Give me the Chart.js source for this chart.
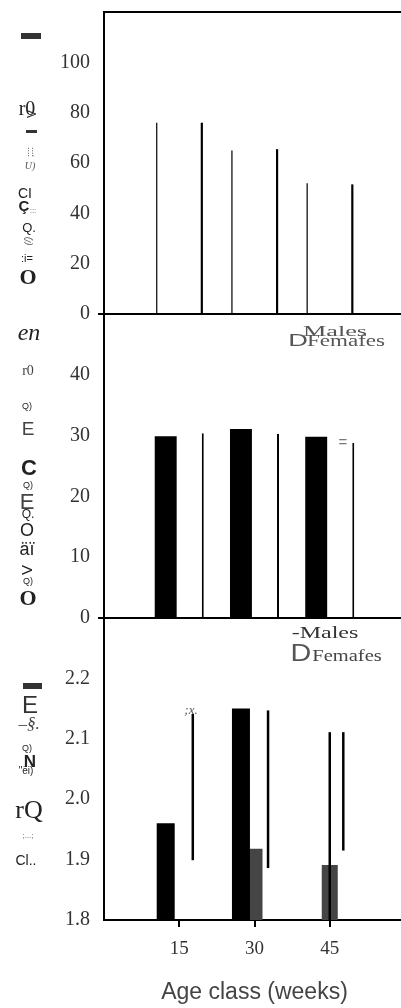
<!DOCTYPE html>
<html>
<head>
<meta charset="utf-8">
<script src="https://cdn.jsdelivr.net/npm/chart.js@4.4.1/dist/chart.umd.min.js"></script>
<style>
html, body { margin: 0; padding: 0; background: #fff; overflow: hidden; width: 401px; height: 1008px; }
canvas { position: absolute; left: 0; top: 0; }
</style>
</head>
<body>
<canvas id="panel-a" width="405" height="1008"></canvas>
<canvas id="panel-b" width="405" height="1008"></canvas>
<canvas id="panel-c" width="405" height="1008"></canvas>
<script>
// --- data ---
const ageLabels = ['', '15', '30', '45', ''];

// upper panel
const topTicks = [0, 20, 40, 60, 80, 100];
const topMales = [null, 76, 65, 52, null];
const topFemales = [null, 76, 65.5, 51.5, null];

// middle panel
const midTicks = [0, 10, 20, 30, 40];
const midMales = [null, 29.9, 31.1, 29.8, null];
const midFemales = [null, 30.4, 30.3, 28.8, null];

// lower panel
const lowTicks = [1.8, 1.9, 2.0, 2.1, 2.2];
const lowMales = [null, 1.96, 2.15, null, null];
const lowFemales = [null, null, 1.918, 1.891, null];
const lowBarsHigh = [null, [1.899, 2.141], [1.886, 2.147], [1.915, 2.111], null];
const lowBarsMid = [null, null, null, [1.8, 2.111], null];

const SERIF = "'Liberation Serif', 'Times New Roman', serif";
const SANS = "'Liberation Sans', Arial, sans-serif";

// leftover text from the scanned figure (y titles, legends)
const notes = [
  { t: 'r0', x: 27, y: 110, f: `20px ${SERIF}` },
  { t: 'V', x: 33, y: 114, f: `12px ${SANS}`, r: -90 },
  { t: ';:::', x: 31, y: 152, f: `9px ${SANS}`, r: -90, c: '#555' },
  { t: 'U)', x: 30, y: 166, f: `italic 10px ${SERIF}`, c: '#555' },
  { t: 'CI', x: 25, y: 194, f: `14px ${SANS}` },
  { t: 'Ç', x: 24, y: 207, f: `bold 15px ${SANS}` },
  { t: ':::', x: 33, y: 211, f: `8px ${SANS}`, c: '#555' },
  { t: 'Q.', x: 29, y: 228, f: `13px ${SANS}` },
  { t: '(/)', x: 28, y: 241, f: `italic 9px ${SANS}`, r: -90, c: '#555' },
  { t: ':i=', x: 27, y: 259, f: `11px ${SANS}` },
  { t: 'O', x: 28, y: 278, f: `bold 22px ${SERIF}` },

  { t: 'en', x: 29, y: 334, f: `italic 24px ${SERIF}` },
  { t: 'r0', x: 28, y: 371, f: `14px ${SERIF}`, c: '#444' },
  { t: 'Q)', x: 27, y: 407, f: `9px ${SANS}` },
  { t: 'E', x: 28, y: 430, f: `19px ${SANS}`, c: '#444' },
  { t: 'C', x: 29, y: 469, f: `bold 22px ${SANS}` },
  { t: 'Q)', x: 28, y: 486, f: `9px ${SANS}` },
  { t: 'E', x: 27, y: 503, f: `22px ${SANS}`, c: '#444' },
  { t: 'Q.', x: 28, y: 515, f: `12px ${SANS}` },
  { t: 'O', x: 27, y: 531, f: `18px ${SANS}` },
  { t: 'äï', x: 27, y: 550, f: `18px ${SANS}` },
  { t: 'V', x: 28, y: 570, f: `15px ${SANS}`, r: -90 },
  { t: 'Q)', x: 28, y: 582, f: `9px ${SANS}` },
  { t: 'O', x: 28, y: 599, f: `bold 22px ${SERIF}` },

  { t: 'E', x: 30, y: 706, f: `24px ${SANS}`, c: '#333' },
  { t: '–§.', x: 29, y: 725, f: `italic 17px ${SERIF}`, c: '#444' },
  { t: 'Q)', x: 27, y: 749, f: `9px ${SANS}` },
  { t: 'N', x: 30, y: 762, f: `bold 17px ${SANS}` },
  { t: '"ëi)', x: 26, y: 771, f: `10px ${SANS}` },
  { t: 'rQ', x: 29, y: 811, f: `26px ${SERIF}` },
  { t: ';...;', x: 28, y: 836, f: `8px ${SANS}`, c: '#555' },
  { t: 'Cl..', x: 26, y: 861, f: `14px ${SANS}` },

  // legends
  { t: 'D', x: 298, y: 341, f: `17px ${SANS}`, sx: 1.6, c: '#555' },
  { t: 'Males', x: 335, y: 332, f: `15px ${SERIF}`, sx: 1.75, c: '#555' },
  { t: 'Femafes', x: 346, y: 342, f: `16px ${SERIF}`, sx: 1.44, c: '#555' },
  { t: '=', x: 343, y: 443, f: `15px ${SANS}`, c: '#777' },
  { t: '-Males', x: 325, y: 634, f: `16px ${SERIF}`, sx: 1.5, c: '#333' },
  { t: 'D', x: 301, y: 655, f: `23px ${SANS}`, sx: 1.25, c: '#555' },
  { t: 'Femafes', x: 347, y: 657, f: `16px ${SERIF}`, sx: 1.28, c: '#444' },
  { t: ';x.', x: 191, y: 711, f: `italic 13px ${SERIF}`, c: '#555' }
];
const blots = [[21, 33, 20, 6], [26, 130, 11, 3], [23, 683, 19, 6]];

const notesPlugin = {
  id: 'notes',
  afterDraw(chart) {
    const ctx = chart.ctx;
    const xs = chart.scales.x;
    const bottom = chart.chartArea.bottom;
    ctx.save();
    ctx.fillStyle = '#333';
    blots.forEach(b => ctx.fillRect(b[0], b[1], b[2], b[3]));
    // small tick marks under the age classes
    ctx.fillStyle = '#000';
    for (let i = 1; i < ageLabels.length - 1; i++) {
      const px = Math.round(xs.getPixelForValue(i));
      ctx.fillRect(px - 1, bottom, 2, 7);
    }
    ctx.restore();
    notes.forEach(n => {
      ctx.save();
      ctx.translate(n.x, n.y);
      if (n.r) ctx.rotate(n.r * Math.PI / 180);
      if (n.sx) ctx.scale(n.sx, 1);
      ctx.font = n.f;
      ctx.fillStyle = n.c || '#222';
      ctx.textAlign = 'center';
      ctx.textBaseline = 'middle';
      ctx.fillText(n.t, 0, 0);
      ctx.restore();
    });
  }
};

// --- shared axis builders ---
function yAxis(min, max, ticks, fmt, zeroTick) {
  return {
    min: min,
    max: max,
    stacked: false,
    afterBuildTicks: s => { s.ticks = ticks.map(v => ({ value: v })); },
    afterFit: s => { s.width = 104; s.paddingTop = 0; s.paddingBottom = 0; },
    border: { display: true, color: '#000', width: 2 },
    grid: {
      display: true, drawOnChartArea: false, drawTicks: true, tickLength: 6, lineWidth: 2,
      color: c => (zeroTick && c.tick && c.tick.value === 0) ? '#000' : 'rgba(0,0,0,0)'
    },
    ticks: { color: '#333', padding: 8, font: { family: SERIF, size: 20 }, callback: fmt }
  };
}

function hiddenX(position) {
  return {
    type: 'category',
    position: position,
    offset: false,
    afterFit: s => { s.height = 0; s.paddingLeft = 0; s.paddingRight = 0; },
    grid: { display: false },
    ticks: { display: false },
    border: { display: true, color: '#000', width: 2 }
  };
}

function baseOptions(padTop, padBottom) {
  return {
    responsive: false,
    animation: false,
    events: [],
    layout: { padding: { top: padTop, bottom: padBottom, left: 0, right: 0 } },
    plugins: { legend: { display: false }, tooltip: { enabled: false } }
  };
}

// --- panel 1 ---
const optA = baseOptions(12, 1008 - 314);
optA.datasets = { bar: { categoryPercentage: 1.2, barPercentage: 1 } };
optA.scales = {
  x: hiddenX('bottom'),
  xTop: hiddenX('top'),
  y: yAxis(0, 120, topTicks, v => String(v), true)
};
new Chart(document.getElementById('panel-a'), {
  type: 'bar',
  data: {
    labels: ageLabels,
    datasets: [
      { label: 'Males', data: topMales, backgroundColor: '#222', maxBarThickness: 1.4 },
      { label: 'Females', data: topFemales, backgroundColor: '#000', maxBarThickness: 2.2 }
    ]
  },
  options: optA
});

// --- panel 2 ---
const optB = baseOptions(314, 1008 - 618);
optB.datasets = { bar: { categoryPercentage: 0.72, barPercentage: 0.81 } };
optB.scales = {
  x: hiddenX('bottom'),
  y: yAxis(0, 50, midTicks, v => String(v), true)
};
new Chart(document.getElementById('panel-b'), {
  type: 'bar',
  data: {
    labels: ageLabels,
    datasets: [
      { label: 'Males', data: midMales, backgroundColor: '#000' },
      {
        label: 'Females', data: midFemales, backgroundColor: '#fff', borderColor: '#000',
        borderSkipped: false, borderWidth: { top: 0, right: 2, bottom: 0, left: 0 }
      }
    ]
  },
  options: optB
});

// --- panel 3 ---
const optC = baseOptions(618, 2);
optC.datasets = { bar: { categoryPercentage: 0.72, barPercentage: 1 } };
optC.scales = {
  x: {
    type: 'category',
    offset: false,
    afterFit: s => { s.height = 86; s.paddingLeft = 0; s.paddingRight = 0; },
    border: { display: true, color: '#000', width: 2 },
    grid: { display: false, drawTicks: true, tickLength: 7 },
    ticks: { color: '#333', padding: 11, autoSkip: false, maxRotation: 0, font: { family: SERIF, size: 19 } },
    title: { display: true, text: 'Age class (weeks)', color: '#444', padding: 0, font: { family: SANS, size: 23 } }
  },
  y: yAxis(1.8, 2.3, lowTicks, v => v.toFixed(1), false)
};
new Chart(document.getElementById('panel-c'), {
  type: 'bar',
  data: {
    labels: ageLabels,
    datasets: [
      { label: 'Males', data: lowMales, backgroundColor: '#000', maxBarThickness: 18 },
      { label: '', data: lowBarsMid, backgroundColor: '#000', grouped: false, maxBarThickness: 2.5 },
      { label: 'Females', data: lowFemales, backgroundColor: '#454545', grouped: false, maxBarThickness: 16 },
      { label: '', data: lowBarsHigh, backgroundColor: '#000', maxBarThickness: 2.5 }
    ]
  },
  options: optC,
  plugins: [notesPlugin]
});
</script>
</body>
</html>
